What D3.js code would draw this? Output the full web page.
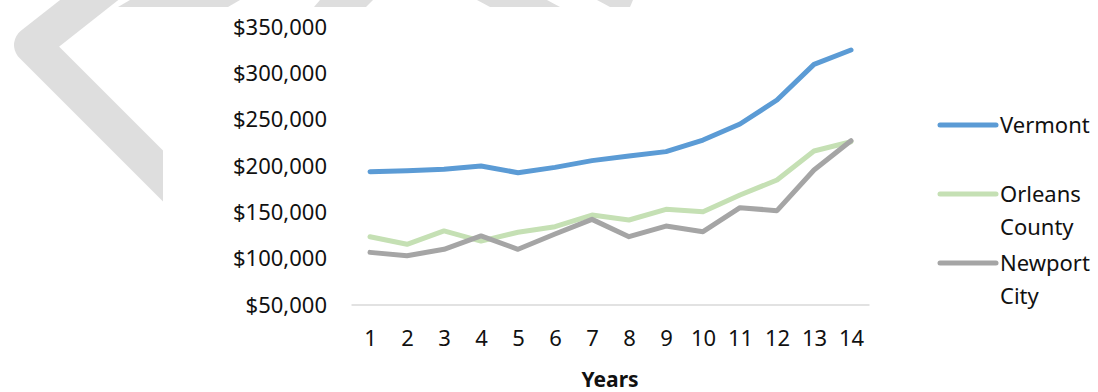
<!DOCTYPE html>
<html>
<head>
<meta charset="utf-8">
<script src="https://cdnjs.cloudflare.com/ajax/libs/d3/7.8.5/d3.min.js"></script>
<style>
  body { margin: 0; background: #fff; }
  text { font-family: 'Noto Sans', 'Open Sans', sans-serif; fill: #111; }
</style>
</head>
<body>
<div class="canvas"></div>
<script>
const years = [1, 2, 3, 4, 5, 6, 7, 8, 9, 10, 11, 12, 13, 14];
const vermont = [193800, 194900, 196400, 200000, 192800, 198500, 205800, 210800, 215500, 228000, 245300, 271200, 309700, 325200];
const orleansCounty = [123700, 115500, 129900, 119000, 128500, 134500, 147100, 141700, 153200, 150700, 168700, 184900, 216200, 226200];
const newportCity = [106800, 103200, 110100, 124500, 110100, 126600, 142400, 123700, 135200, 129100, 155000, 151800, 195700, 227300];
const yTicks = [50000, 100000, 150000, 200000, 250000, 300000, 350000];

const series = [
  { name: ['Vermont'], values: vermont, color: '#5b9bd5' },
  { name: ['Orleans', 'County'], values: orleansCounty, color: '#c5e0b4' },
  { name: ['Newport', 'City'], values: newportCity, color: '#a5a5a5' }
];

const width = 1098;
const height = 392;
const fontSize = 22;

const svg = d3.select('.canvas')
  .append('svg')
  .attr('width', width)
  .attr('height', height)

// faint watermark behind the chart area
const mark = svg.append('g').attr('fill', '#dedede');
mark.append('path')
  .attr('d', 'M140,-40 L32,45 L210,223')
  .attr('fill', 'none')
  .attr('stroke', '#dedede')
  .attr('stroke-width', 36)
  .attr('stroke-linejoin', 'round')
mark.append('path').attr('d', 'M130,0 L240,0 L228,7 L118,7 Z')
mark.append('path').attr('d', 'M320,0 L373,0 L366,7 L314,7 Z')
mark.append('path').attr('d', 'M477,0 L547,0 L560,7 L490,7 Z')
mark.append('path').attr('d', 'M597,0 L633,0 L630,7 L610,7 Z')

svg.append('rect')
  .attr('x', 163)
  .attr('y', 7)
  .attr('width', width - 163)
  .attr('height', height - 7)
  .attr('fill', '#fff')

// scales
const x = d3.scalePoint()
  .domain(years)
  .range([351.5, 869.5])
  .padding(0.5);

const y = d3.scaleLinear()
  .domain([50000, 350000])
  .range([305, 27]);

const fmt = d3.format('$,');

// y axis labels, no line
const yAxis = d3.axisLeft(y)
  .tickValues(yTicks)
  .tickFormat(fmt)
  .tickSize(0)
  .tickPadding(0);

const yAxisGroup = svg.append('g')
  .attr('transform', 'translate(327, 0)')
  .call(yAxis);
yAxisGroup.select('.domain').remove();
yAxisGroup.selectAll('text')
  .attr('font-size', fontSize)
  .attr('font-family', null)
  .attr('fill', '#111');

// x axis
const xAxis = d3.axisBottom(x).tickSize(0).tickPadding(25);
const xAxisGroup = svg.append('g')
  .attr('transform', 'translate(0, 305)')
  .call(xAxis);
xAxisGroup.select('.domain')
  .attr('d', 'M351.5,0H869.5')
  .attr('stroke', '#d9d9d9')
  .attr('stroke-width', 1.5);
xAxisGroup.selectAll('text')
  .attr('font-size', fontSize)
  .attr('font-family', null)
  .attr('fill', '#111');

svg.append('text')
  .attr('x', 610)
  .attr('y', 380)
  .attr('dy', '0.35em')
  .attr('text-anchor', 'middle')
  .attr('font-size', 21)
  .attr('font-weight', 'bold')
  .text('Years')

// lines
const line = d3.line()
  .x((d, i) => x(years[i]))
  .y(d => y(d));

svg.selectAll('.series')
  .data(series)
  .enter()
  .append('path')
  .attr('class', 'series')
  .attr('d', d => line(d.values))
  .attr('fill', 'none')
  .attr('stroke', d => d.color)
  .attr('stroke-width', 5)
  .attr('stroke-linecap', 'round')
  .attr('stroke-linejoin', 'round');

// legend
const legendY = [125, 194, 263];
const legend = svg.selectAll('.legend')
  .data(series)
  .enter()
  .append('g')
  .attr('class', 'legend')
  .attr('transform', (d, i) => `translate(940, ${legendY[i]})`);

legend.append('line')
  .attr('x1', 0)
  .attr('x2', 56)
  .attr('stroke', d => d.color)
  .attr('stroke-width', 5)
  .attr('stroke-linecap', 'round');

legend.each(function(d) {
  d3.select(this).selectAll('text')
    .data(d.name)
    .enter()
    .append('text')
    .attr('x', 60)
    .attr('y', (t, j) => j * 33)
    .attr('dy', '0.35em')
    .attr('font-size', fontSize)
    .text(t => t);
});
</script>
</body>
</html>
